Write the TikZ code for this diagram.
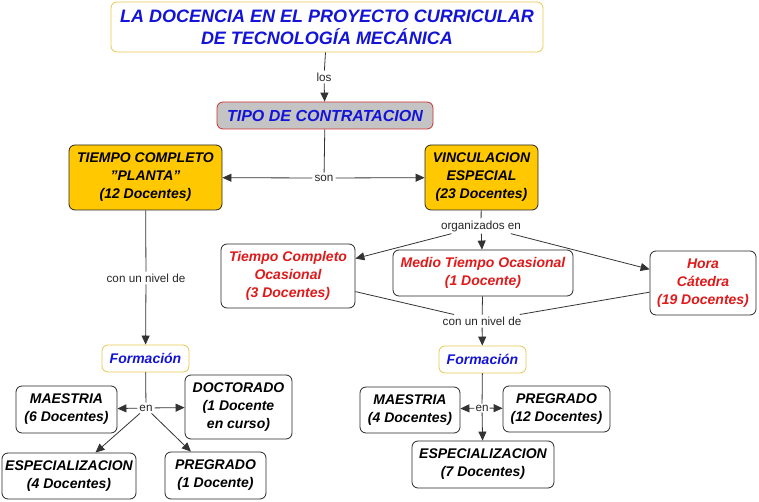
\documentclass[tikz,border=0pt]{standalone}
\usepackage{fontspec}
\setmainfont{Liberation Sans}
\usetikzlibrary{positioning,arrows.meta}
\definecolor{goldfill}{HTML}{FFC800}
\definecolor{yellowline}{HTML}{E8C850}
\definecolor{mapblue}{HTML}{1414D8}
\definecolor{mapred}{HTML}{E01A1A}
\definecolor{tipofill}{HTML}{C4C4C4}
\definecolor{tipoline}{HTML}{D03030}
\tikzset{
  every node/.style={align=center},
  concept/.style={
    draw=black!85, rounded corners=6pt, fill=white, line width=0.8pt,
    font=\bfseries\itshape\fontsize{14}{18}\selectfont, inner sep=1pt
  },
  gold/.style={concept, fill=goldfill},
  kind/.style={concept, text=mapred},
  heading/.style={concept, draw=yellowline, text=mapblue},
  linklabel/.style={font=\fontsize{11.7}{13}\selectfont, inner sep=2pt, text=black!85},
  link/.style={line width=0.8pt, draw=black!80},
  arrow/.style={link, -{Triangle[length=9pt,width=8pt]}}
}

\begin{document}
\begin{tikzpicture}[x=1pt, y=-1pt]
\useasboundingbox (0,0) rectangle (759,502);

%% top: title and contract type
\node[heading, minimum width=432pt, minimum height=50pt, font=\bfseries\itshape\fontsize{18}{22}\selectfont]
  (title) at (327,27) {LA DOCENCIA EN EL PROYECTO CURRICULAR\\DE TECNOLOGÍA MECÁNICA};
\node[concept, draw=tipoline, fill=tipofill, text=mapblue, minimum width=216pt, minimum height=27pt,
  font=\bfseries\itshape\fontsize{16}{18}\selectfont] (tipo) at (325,115.5) {TIPO DE CONTRATACION};

\node[linklabel] (los) at (324,77) {los};
\draw[link]  (title) -- (los);
\draw[arrow] (los) -- (tipo);

%% the two contract kinds
\node[gold, minimum width=153pt, minimum height=65pt] (planta) at (145.5,177.5)
  {TIEMPO COMPLETO\\\symbol{34}PLANTA\symbol{34}\\(12 Docentes)};
\node[gold, minimum width=113pt, minimum height=65pt] (vinc) at (481.5,177.5)
  {VINCULACION\\ESPECIAL\\(23 Docentes)};

\node[linklabel] (son) at (324,178) {son};
\draw[link]  (tipo) -- (son);
\draw[arrow] (son) -- (planta);
\draw[arrow] (son) -- (vinc);

%% special hiring, organised in three groups
\node[kind, minimum width=134pt, minimum height=64pt] (tco) at (288,276)
  {Tiempo Completo\\Ocasional\\(3 Docentes)};
\node[kind, minimum width=180pt, minimum height=46pt] (medio) at (483,273)
  {Medio Tiempo Ocasional\\(1 Docente)};
\node[kind, minimum width=106pt, minimum height=64pt] (hora) at (703,283)
  {Hora\\Cátedra\\(19 Docentes)};

\node[linklabel] (org) at (481,226) {organizados en};
\draw[link]  (vinc) -- (org);
\draw[arrow] (org) -- (tco);
\draw[arrow] (org) -- (medio);
\draw[arrow] (org) -- (hora);

%% left branch: planta staff
\node[heading, minimum width=87pt, minimum height=27pt] (formA) at (145.5,358.5) {Formación};
\node[linklabel] (nivA) at (146,278) {con un nivel de};
\draw[link]  (planta) -- (nivA);
\draw[arrow] (nivA) -- (formA);

\node[concept, minimum width=101pt, minimum height=47pt] (maeA) at (66.5,409.5) {MAESTRIA\\(6 Docentes)};
\node[concept, minimum width=107pt, minimum height=64pt] (docA) at (238.5,407) {DOCTORADO\\(1 Docente\\en curso)};
\node[concept, minimum width=134pt, minimum height=46pt] (espA) at (69,476) {ESPECIALIZACION\\(4 Docentes)};
\node[concept, minimum width=101pt, minimum height=47pt] (preA) at (215.5,475.5) {PREGRADO\\(1 Docente)};

\node[linklabel] (enA) at (146,408) {en};
\draw[link]  (formA) -- (enA);
\draw[arrow] (enA) -- (maeA);
\draw[arrow] (enA) -- (docA);
\draw[arrow] (enA) -- (espA);
\draw[arrow] (enA) -- (preA);

%% right branch: special hiring staff
\node[heading, minimum width=87pt, minimum height=27pt] (formB) at (482.5,359.5) {Formación};
\node[linklabel] (nivB) at (482,321) {con un nivel de};
\draw[link]  (tco) -- (nivB);
\draw[link]  (medio) -- (nivB);
\draw[link]  (hora) -- (nivB);
\draw[arrow] (nivB) -- (formB);

\node[concept, minimum width=100pt, minimum height=46pt] (maeB) at (410,410) {MAESTRIA\\(4 Docentes)};
\node[concept, minimum width=107pt, minimum height=46pt] (preB) at (556.5,409) {PREGRADO\\(12 Docentes)};
\node[concept, minimum width=142pt, minimum height=47pt] (espB) at (483,464.5) {ESPECIALIZACION\\(7 Docentes)};

\node[linklabel, inner sep=1pt] (enB) at (482,408) {en};
\draw[link]  (formB) -- (enB);
\draw[arrow] (enB) -- (maeB);
\draw[arrow] (enB) -- (preB);
\draw[arrow] (enB) -- (espB);

\end{tikzpicture}
\end{document}
